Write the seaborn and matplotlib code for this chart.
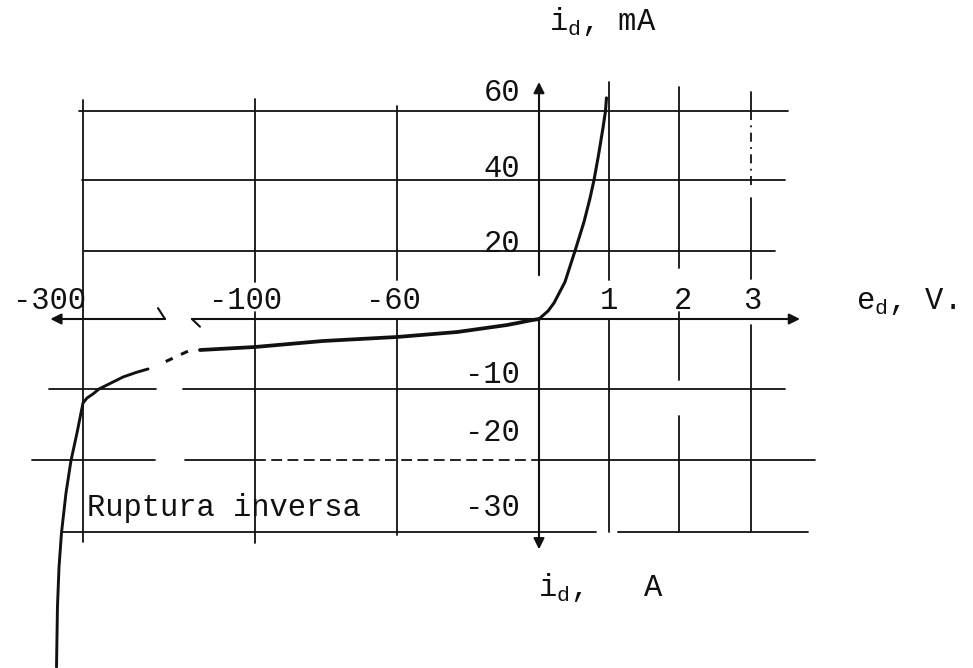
import numpy as np
import pandas as pd
import matplotlib
matplotlib.use("Agg")
import matplotlib.pyplot as plt
import seaborn as sns

# ---- diode characteristic i_d(e_d) ----
# forward branch (e_d in V, i_d in mA)
e_forward = [0.0, 0.129, 0.214, 0.371, 0.514, 0.643, 0.729, 0.786, 0.85,
             0.914, 0.95, 0.964]
i_forward = [0.0, 2.35, 4.7, 10.9, 20.0, 28.2, 34.9, 40.0, 47.2,
             55.1, 60.0, 63.8]

# reverse leakage branch
e_reverse = [0.0, -3.8, -8.0, -13.5, -20.7, -34.6, -60.0, -80.8, -100.0, -164.0]
i_reverse = [0.0, -0.21, -0.5, -0.86, -1.2, -1.86, -2.57, -3.14, -4.0, -4.43]

# dotted stretch across the broken part of the voltage axis
e_bridge = [-178.0, -213.0]
i_bridge = [-4.6, -6.6]

# reverse breakdown branch
e_breakdown = [-224.4, -238.4, -253.5, -267.4, -281.4, -288.4, -295.3, -300.0,
               -307.0, -314.0, -319.8, -325.0, -327.9, -329.7, -330.8]
i_breakdown = [-7.14, -7.64, -8.29, -9.14, -10.0, -10.7, -11.27, -11.97,
               -16.2, -20.1, -24.6, -30.1, -34.9, -40.4, -48.75]

# tick labels
x_ticks = [-300, -100, -60, 1, 2, 3]
x_tick_labels = ["-300", "-100", "-60", "1", "2", "3"]
y_ticks = [60, 40, 20, -10, -20, -30]
y_tick_labels = ["60", "40", "20", "-10", "-20", "-30"]

# ---- broken, piecewise-linear scales of the hand-drawn axes ----
V_KNOTS = [-400, -300, -100, -60, 0, 1, 2, 3, 10]
V_POS = [-3, 83, 255, 397, 539, 609, 679, 751, 1248]
I_KNOTS = [-60, -30, -20, -10, 0, 20, 40, 60, 100]
I_POS = [-80, 136, 208, 279, 349, 417, 488, 557, 695]


def fx(v):
    return np.interp(v, V_KNOTS, V_POS)


def fx_inv(p):
    return np.interp(p, V_POS, V_KNOTS)


def fy(i):
    return np.interp(i, I_KNOTS, I_POS)


def fy_inv(p):
    return np.interp(p, I_POS, I_KNOTS)


sns.set_theme(style="white")
plt.rcParams["font.family"] = ["Liberation Mono", "DejaVu Sans Mono"]
plt.rcParams["mathtext.fontset"] = "custom"
plt.rcParams["mathtext.rm"] = "Liberation Mono"
plt.rcParams["mathtext.it"] = "Liberation Mono"

W, H = 973, 668
fig = plt.figure(figsize=(W / 100, H / 100), dpi=100)
fig.patch.set_facecolor("white")
ax = fig.add_axes([0, 0, 1, 1])
ax.set_xscale("function", functions=(fx, fx_inv))
ax.set_yscale("function", functions=(fy, fy_inv))
ax.set_xlim(float(fx_inv(0)), float(fx_inv(W)))
ax.set_ylim(float(fy_inv(0)), float(fy_inv(H)))
ax.set_axis_off()

INK = "#111111"
GRID_LW = 1.3

# ---- grid, drawn as separate hand-ruled strokes ----
h_segments = [
    ((-304.6, 3.52), 60, "-"),
    ((-301.0, 3.48), 40, "-"),
    ((-299.0, 3.34), 20, "-"),
    ((-339.0, -215.0), -10, "-"),
    ((-183.7, 3.48), -10, "-"),
    ((-358.8, -216.0), -20, "-"),
    ((-181.4, -100.0), -20, "-"),
    ((-100.0, 0.0), -20, (0, (6, 3))),
    ((0.0, 3.9), -20, "-"),
    ((-324.4, 0.82), -30, "-"),
    ((1.13, 3.8), -30, "-"),
]
for (x0, x1), yv, ls in h_segments:
    ax.plot([x0, x1], [yv, yv], color=INK, lw=GRID_LW, ls=ls)

v_segments = [
    (-300, (63.2, -31.4), "-"),
    (-100, (63.5, 11.0), "-"),
    (-100, (2.1, -31.5), "-"),
    (-60, (61.5, 11.5), "-"),
    (-60, (0.0, -30.4), "-"),
    (1, (68.4, 11.5), "-"),
    (1, (0.0, -30.0), "-"),
    (2, (66.9, 15.0), "-"),
    (2, (2.1, -8.7), "-"),
    (2, (-13.8, -30.0), "-"),
    (3, (65.4, 60.0), "-"),
    (3, (60.0, 38.0), (0, (5, 3, 1, 3))),
    (3, (35.0, 11.9), "-"),
    (3, (-0.86, -30.0), "-"),
]
for xv, (y0, y1), ls in v_segments:
    ax.plot([xv, xv], [y0, y1], color=INK, lw=GRID_LW, ls=ls)

# ---- axes with arrows and the break in the voltage axis ----
arrow = dict(arrowstyle="-|>", color=INK, lw=1.5, mutation_scale=16,
             shrinkA=0, shrinkB=0)
ax.annotate("", xy=(-338.0, 0), xytext=(-204.7, 0), arrowprops=arrow)
ax.annotate("", xy=(3.69, 0), xytext=(-173.3, 0), arrowprops=arrow)
ax.annotate("", xy=(0, 68.4), xytext=(0, 12.9), arrowprops=arrow)
ax.annotate("", xy=(0, -32.4), xytext=(0, 0), arrowprops=arrow)
ax.plot([-204.7, -212.8], [0, 3.2], color=INK, lw=1.5)
ax.plot([-173.3, -164.0], [0, -1.1], color=INK, lw=1.5)

# ---- the characteristic curve ----
curve = pd.concat([
    pd.DataFrame({"e_d": e_forward, "i_d": i_forward, "rama": "directa"}),
    pd.DataFrame({"e_d": e_reverse, "i_d": i_reverse, "rama": "inversa"}),
    pd.DataFrame({"e_d": e_breakdown, "i_d": i_breakdown, "rama": "ruptura"}),
], ignore_index=True)
widths = {"directa": 2.2, "inversa": 2.7, "ruptura": 2.1}
for rama, part in curve.groupby("rama", sort=False):
    sns.lineplot(data=part, x="e_d", y="i_d", sort=False, estimator=None,
                 color=INK, lw=widths[rama], ax=ax, legend=False)
sns.lineplot(x=e_bridge, y=i_bridge, sort=False, estimator=None, color=INK,
             lw=2.2, ls=(0, (2.5, 3)), ax=ax, legend=False)

# ---- labels ----
FS = 22
x_offsets = {"-300": (3, "right"), "-100": (-10, "center"), "-60": (-4, "center"),
             "1": (0, "center"), "2": (4, "center"), "3": (1, "center")}
for v, lab in zip(x_ticks, x_tick_labels):
    dx, ha = x_offsets[lab]
    ax.annotate(lab, xy=(v, 0), xytext=(dx, 18), textcoords="offset pixels",
                ha=ha, va="center", fontsize=FS, color=INK)

y_lift = [18, 11, 7, 14, 27, 24]
for yv, lab, lift in zip(y_ticks, y_tick_labels, y_lift):
    ax.annotate(lab, xy=(0, yv), xytext=(-19, lift), textcoords="offset pixels",
                ha="right", va="center", fontsize=FS, color=INK)

fig.text(549 / W, 1 - 22 / H, r"i$_\mathrm{d}$, mA", fontsize=FS,
         ha="left", va="center", color=INK)
fig.text(856 / W, 1 - 301 / H, r"e$_\mathrm{d}$, V.", fontsize=FS,
         ha="left", va="center", color=INK)
fig.text(538 / W, 1 - 588 / H, r"i$_\mathrm{d}$,   A", fontsize=FS,
         ha="left", va="center", color=INK)
fig.text(87 / W, 1 - 508 / H, "Ruptura inversa", fontsize=FS,
         ha="left", va="center", color=INK)

fig.savefig("out.png", dpi=100, facecolor="white")
